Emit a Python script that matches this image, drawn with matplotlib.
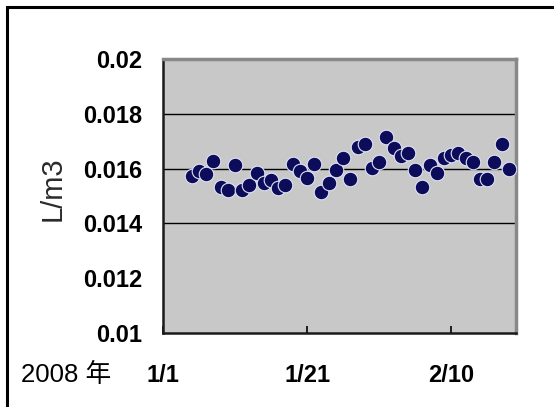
import matplotlib
matplotlib.use("Agg")
import matplotlib.pyplot as plt
import matplotlib.dates as mdates
from matplotlib.patches import Rectangle
from datetime import datetime, timedelta

# daily concentration readings, 2008
start = datetime(2008, 1, 5)
values = [
    0.01573, 0.01590, 0.01580, 0.01628, 0.01533, 0.01522, 0.01613, 0.01522,
    0.01540, 0.01584, 0.01547, 0.01560, 0.01529, 0.01540, 0.01617, 0.01590,
    0.01566, 0.01617, 0.01515, 0.01547, 0.01595, 0.01639, 0.01562, 0.01679,
    0.01690, 0.01602, 0.01624, 0.01715, 0.01675, 0.01646, 0.01657, 0.01595,
    0.01533, 0.01613, 0.01584, 0.01639, 0.01650, 0.01657, 0.01639, 0.01624,
    0.01562, 0.01562, 0.01624, 0.01690, 0.01599,
]
dates = [start + timedelta(days=i) for i in range(len(values))]

tick_dates = [datetime(2008, 1, 1), datetime(2008, 1, 21), datetime(2008, 2, 10)]
tick_labels = ["1/1", "1/21", "2/10"]
y_ticks = [0.01, 0.012, 0.014, 0.016, 0.018, 0.02]
y_labels = ["0.01", "0.012", "0.014", "0.016", "0.018", "0.02"]
grid_levels = [0.014, 0.016, 0.018]

plt.rcParams["font.family"] = ["Liberation Sans", "Noto Sans CJK JP", "DejaVu Sans"]

fig = plt.figure(figsize=(5.54, 4.07), dpi=100)
ax = fig.add_axes([163 / 554, 1 - 333 / 407, 353 / 554, 274 / 407])
ax.set_facecolor("#c8c8c8")

# outer chart border (left and top edges)
fig.patches.append(Rectangle((6.5 / 554, -0.1), 1.2, (400.5 / 407) + 0.1,
                             transform=fig.transFigure, fill=False,
                             edgecolor="black", linewidth=2.2))

for lvl in grid_levels:
    ax.axhline(lvl, color="black", linewidth=1.0, zorder=1)

ax.plot(dates, values, linestyle="none", marker="o", markersize=10.5,
        markerfacecolor="#0c0c5a", markeredgecolor="#dde3f5",
        markeredgewidth=0.8, zorder=3)

ax.set_xlim(datetime(2008, 1, 1), datetime(2008, 2, 19))
ax.set_ylim(0.01, 0.02)
ax.set_xticks([mdates.date2num(d) for d in tick_dates])
ax.set_xticklabels(tick_labels, fontsize=17, fontweight="bold")
ax.set_yticks(y_ticks)
ax.set_yticklabels(y_labels, fontsize=17, fontweight="bold")
ax.tick_params(axis="x", direction="in", length=5, width=1.2, pad=22, color="black")
ax.tick_params(axis="y", length=0, pad=15)

ax.spines["left"].set_color("#1a1a1a")
ax.spines["left"].set_linewidth(1.8)
ax.spines["bottom"].set_color("#1a1a1a")
ax.spines["bottom"].set_linewidth(1.8)
ax.spines["top"].set_color("#888888")
ax.spines["top"].set_linewidth(2.5)
ax.spines["right"].set_color("#888888")
ax.spines["right"].set_linewidth(2.5)

fig.text(53 / 554, 1 - 189 / 407, "L/m3", rotation=90, fontsize=21,
         color="#2a2a2a", ha="center", va="center")
fig.text(21 / 554, 1 - 375 / 407, "2008 年", fontsize=18.5, ha="left", va="center",
         family=["Liberation Sans", "Noto Sans CJK JP"])

fig.savefig("out.png", dpi=100)
